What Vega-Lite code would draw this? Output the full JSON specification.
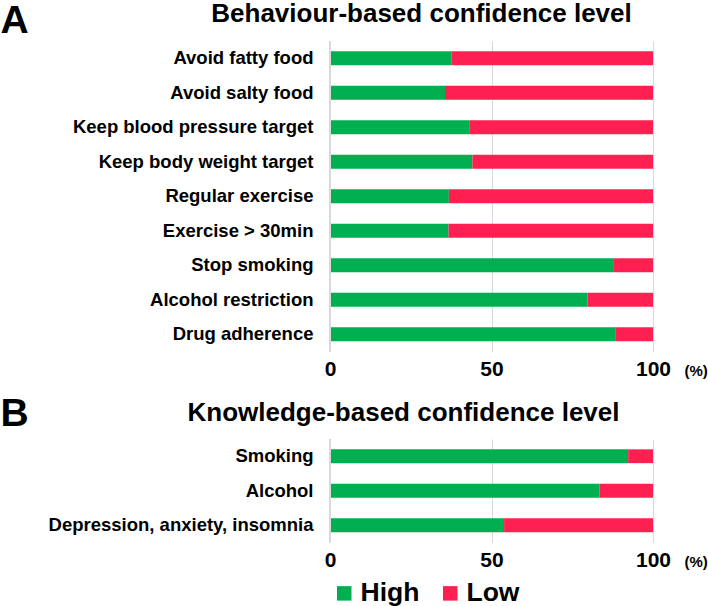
{
  "$schema": "https://vega.github.io/schema/vega-lite/v6.json",
  "padding": 0,
  "background": "white",
  "config": {
    "font": "Liberation Sans",
    "view": {"stroke": null},
    "axis": {"labelColor": "black", "labelFontWeight": "bold", "titleColor": "black", "titleFontWeight": "bold"}
  },
  "datasets": {
    "a": [
      {"item": "Avoid fatty food", "level": "High", "pct": 37.7},
      {"item": "Avoid fatty food", "level": "Low", "pct": 62.3},
      {"item": "Avoid salty food", "level": "High", "pct": 35.6},
      {"item": "Avoid salty food", "level": "Low", "pct": 64.4},
      {"item": "Keep blood pressure target", "level": "High", "pct": 43.3},
      {"item": "Keep blood pressure target", "level": "Low", "pct": 56.7},
      {"item": "Keep body weight target", "level": "High", "pct": 44.1},
      {"item": "Keep body weight target", "level": "Low", "pct": 55.9},
      {"item": "Regular exercise", "level": "High", "pct": 36.8},
      {"item": "Regular exercise", "level": "Low", "pct": 63.2},
      {"item": "Exercise > 30min", "level": "High", "pct": 36.7},
      {"item": "Exercise > 30min", "level": "Low", "pct": 63.3},
      {"item": "Stop smoking", "level": "High", "pct": 87.9},
      {"item": "Stop smoking", "level": "Low", "pct": 12.1},
      {"item": "Alcohol restriction", "level": "High", "pct": 79.7},
      {"item": "Alcohol restriction", "level": "Low", "pct": 20.3},
      {"item": "Drug adherence", "level": "High", "pct": 88.5},
      {"item": "Drug adherence", "level": "Low", "pct": 11.5}
    ],
    "b": [
      {"item": "Smoking", "level": "High", "pct": 92.3},
      {"item": "Smoking", "level": "Low", "pct": 7.7},
      {"item": "Alcohol", "level": "High", "pct": 83.4},
      {"item": "Alcohol", "level": "Low", "pct": 16.6},
      {"item": "Depression, anxiety, insomnia", "level": "High", "pct": 53.9},
      {"item": "Depression, anxiety, insomnia", "level": "Low", "pct": 46.1}
    ]
  },
  "spacing": 14,
  "resolve": {"legend": {"color": "independent"}, "scale": {"color": "independent"}},
  "vconcat": [
    {
      "width": 323,
      "height": 310.5,
      "data": {"name": "a"},
      "resolve": {"axis": {"x": "independent"}},
      "layer": [
        {
          "mark": {"type": "bar"},
          "encoding": {
            "y": {
              "field": "item", "type": "nominal", "sort": null,
              "scale": {"paddingInner": 0.6, "paddingOuter": 0.3},
              "axis": {"title": "A", "titleAngle": 0, "titleFontSize": 39, "titleAlign": "left", "titleBaseline": "alphabetic", "titleX": -330, "titleY": -9,
                       "labelFontSize": 18.5, "labelPadding": 17, "ticks": false, "domain": false, "labelLimit": 400}
            },
            "x": {
              "field": "pct", "type": "quantitative", "stack": "zero",
              "scale": {"domain": [0, 100], "nice": false},
              "axis": {"values": [0, 50, 100], "grid": true, "gridColor": "#d9d9d9", "ticks": false, "domain": false,
                       "labelFontSize": 21, "labelPadding": 7, "labelFlush": false,
                       "title": "(%)", "titleFontSize": 15, "titleAngle": 0, "titleAlign": "left", "titleBaseline": "alphabetic", "titleX": 354, "titleY": 24}
            },
            "color": {
              "field": "level", "type": "nominal",
              "scale": {"domain": ["High", "Low"], "range": ["#00B050", "#FF2052"]},
              "legend": null
            },
            "order": {"field": "level", "sort": "ascending"}
          }
        },
        {
          "mark": {"type": "rule", "color": "#d9d9d9", "strokeWidth": 1},
          "encoding": {
            "x": {
              "datum": 0, "type": "quantitative",
              "axis": {"orient": "top", "labels": false, "ticks": false, "domain": false, "grid": false,
                       "title": "Behaviour-based confidence level", "titleFontSize": 26, "titleAlign": "center", "titleBaseline": "alphabetic", "titleX": 91, "titleY": -20}
            }
          }
        }
      ]
    },
    {
      "width": 323,
      "height": 103.5,
      "data": {"name": "b"},
      "resolve": {"axis": {"x": "independent"}},
      "layer": [
        {
          "mark": {"type": "bar"},
          "encoding": {
            "y": {
              "field": "item", "type": "nominal", "sort": null,
              "scale": {"paddingInner": 0.6, "paddingOuter": 0.3},
              "axis": {"title": "B", "titleAngle": 0, "titleFontSize": 39, "titleAlign": "left", "titleBaseline": "alphabetic", "titleX": -330, "titleY": -14,
                       "labelFontSize": 18.5, "labelPadding": 17, "ticks": false, "domain": false, "labelLimit": 400}
            },
            "x": {
              "field": "pct", "type": "quantitative", "stack": "zero",
              "scale": {"domain": [0, 100], "nice": false},
              "axis": {"values": [0, 50, 100], "grid": true, "gridColor": "#d9d9d9", "ticks": false, "domain": false,
                       "labelFontSize": 21, "labelPadding": 7, "labelFlush": false,
                       "title": "(%)", "titleFontSize": 15, "titleAngle": 0, "titleAlign": "left", "titleBaseline": "alphabetic", "titleX": 354, "titleY": 24}
            },
            "color": {
              "field": "level", "type": "nominal",
              "scale": {"domain": ["High", "Low"], "range": ["#00B050", "#FF2052"]},
              "legend": {"title": null, "orient": "none", "legendX": 1, "legendY": 141, "direction": "horizontal",
                         "symbolType": "square", "symbolSize": 210, "symbolStrokeWidth": 0, "symbolOpacity": 1,
                         "labelFontSize": 26.5, "labelFontWeight": "bold", "labelColor": "black", "labelOffset": 3, "columnPadding": 17}
            },
            "order": {"field": "level", "sort": "ascending"}
          }
        },
        {
          "mark": {"type": "rule", "color": "#d9d9d9", "strokeWidth": 1},
          "encoding": {
            "x": {
              "datum": 0, "type": "quantitative",
              "axis": {"orient": "top", "labels": false, "ticks": false, "domain": false, "grid": false,
                       "title": "Knowledge-based confidence level", "titleFontSize": 26, "titleAlign": "center", "titleBaseline": "alphabetic", "titleX": 73, "titleY": -19}
            }
          }
        }
      ]
    }
  ]
}
